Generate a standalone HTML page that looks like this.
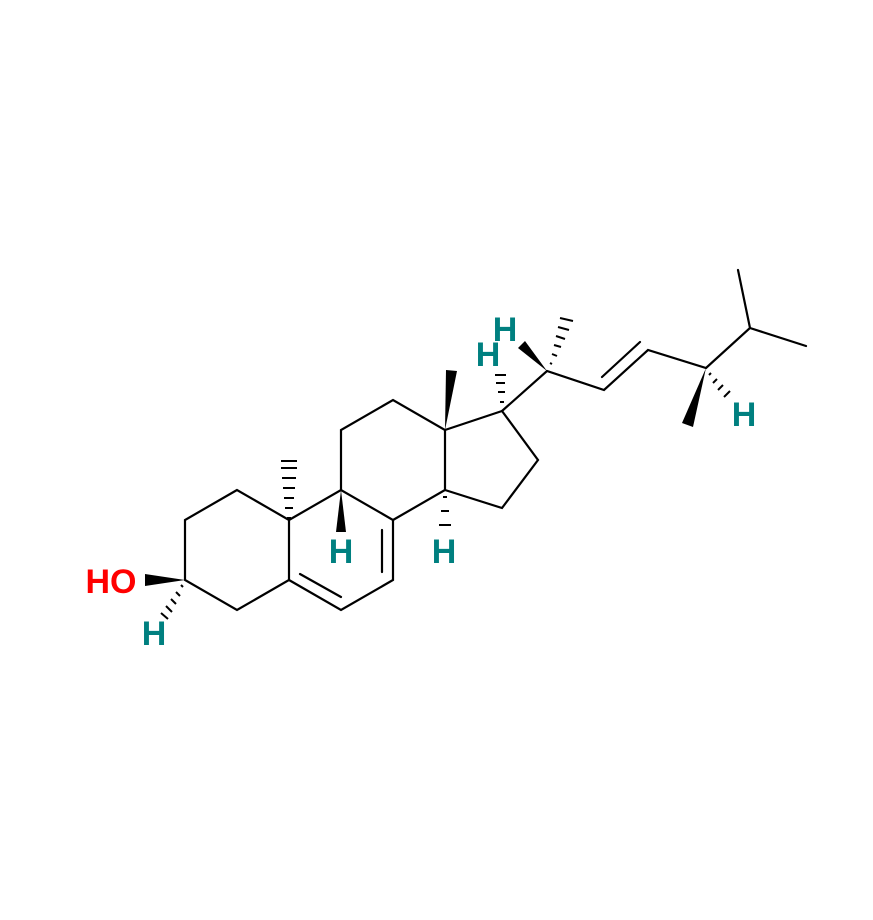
<!DOCTYPE html>
<html><head><style>body{margin:0;background:#fff}</style></head><body>
<svg width="873" height="915" viewBox="0 0 873 915" xmlns="http://www.w3.org/2000/svg">
<g stroke="#000" stroke-width="2.2" fill="none" stroke-linecap="round">
<path d="M237,490 L185,520 L185,580 L237,610 L289,580 L289,520 Z"/>
<path d="M289,580 L341,610 L393,580 L393,520 L341,490 L289,520"/>
<path d="M341,490 L341,430 L393,400 L445,430 L445,490 L393,520"/>
<path d="M445,490 L502,508 L538,460 L502,411 L445,430"/>
<path d="M300,574 L341,597 M382,530 L382,572"/>
<path d="M502,411 L547,371 L604,390 L648,350 L706,368 L750,328 L738,270 M750,328 L806,346"/>
<path d="M602,377 L640,342"/>
</g>
<g fill="#000">
<polygon points="185,580 145,574 145,586"/>
<polygon points="341,490 336,532 346,532"/>
<polygon points="445,430 446,370 457,371"/>
<polygon points="547,371 518,348 525,341"/>
<polygon points="706,368 682,423 693,427"/>
</g>
<g stroke="#000" stroke-width="2">
<path d="M287,518 h4 M285,508 h8 M284,498 h10 M283,488 h12 M282,478 h14 M281,468 h16 M281,461 h16"/>
<path d="M443,497 h4 M441,511 h8 M439,525 h12"/>
<path d="M500,402 h4 M498,392 h7 M496,383 h9 M495,375 h11"/>
<path d="M550,363 l2,1 M552,354 l5,2 M554,345 l7,2 M556,336 l9,3 M558,327 l11,3 M560,318 l13,3"/>
<path d="M711,373 l-2,2 M717,379 l-4,4 M723,385 l-5,5 M730,391 l-6,6"/>
<path d="M181,585 l2,2 M176,592 l4,4 M171,599 l5,5 M166,606 l6,6 M161,613 l7,6"/>
</g>
<g font-family="Liberation Sans, sans-serif" font-weight="bold" font-size="34" text-anchor="middle" fill="#008080">
<text x="341" y="563">H</text>
<text x="444" y="563">H</text>
<text x="154" y="645">H</text>
<text x="488" y="366">H</text>
<text x="505" y="341">H</text>
<text x="744" y="426">H</text>
<text x="111" y="593" fill="#ff0000">HO</text>
</g>
</svg>
</body></html>
